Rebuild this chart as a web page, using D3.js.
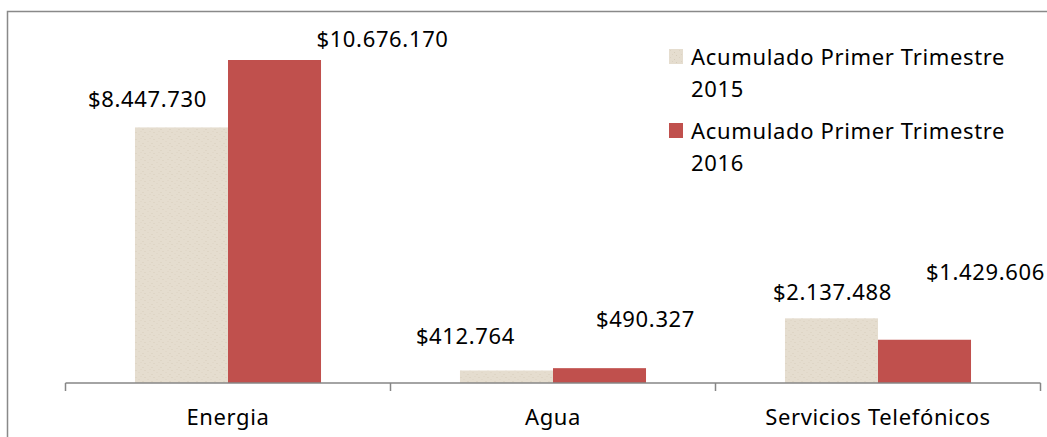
<!DOCTYPE html>
<html>
<head>
<meta charset="utf-8">
<script src="https://cdn.jsdelivr.net/npm/d3@7"></script>
<style>
  html, body { margin: 0; padding: 0; background: #fff; overflow: hidden; }
  text { font-family: "Noto Sans", "Open Sans", sans-serif; fill: #000; letter-spacing: 0.65px; }
</style>
</head>
<body>
<div id="chart-container"></div>
<script>
// data
const categories = ["Energia", "Agua", "Servicios Telefónicos"];
const series = ["Acumulado Primer Trimestre 2015", "Acumulado Primer Trimestre 2016"];
const values2015 = [8447730, 412764, 2137488];
const values2016 = [10676170, 490327, 1429606];

// label nudges (px) as placed in the original, [dx, dy] from bar top centre
const labelNudge2015 = [[-34, -20], [-41, -27], [1, -18]];
const labelNudge2016 = [[108, -13], [46, -41], [61, -60]];

const w = 1047, h = 437;
const fontSize = "22px";
const fmt = v => "$" + d3.format(",")(v).replace(/,/g, ".");

const svg = d3.select("#chart-container").append("svg")
  .attr("width", w)
  .attr("height", h);

// beige bar texture
const defs = svg.append("defs");
const pat = defs.append("pattern")
  .attr("id", "paper")
  .attr("patternUnits", "userSpaceOnUse")
  .attr("width", 9).attr("height", 7);
pat.append("rect").attr("width", 9).attr("height", 7).attr("fill", "#E5DDCF");
[[1, 1], [5, 3], [3, 5], [7, 6]].forEach(([px, py], i) => {
  pat.append("rect")
    .attr("x", px).attr("y", py)
    .attr("width", 1).attr("height", 1)
    .attr("fill", i % 2 ? "#D6CCBA" : "#DCD3C3");
});

// outer frame
svg.append("path")
  .attr("d", `M7.5,${h + 5} V11.5 H${w + 5}`)
  .attr("fill", "none")
  .attr("stroke", "#898989")
  .attr("stroke-width", 1.5);

const x0 = d3.scaleBand()
  .domain(categories)
  .range([65.5, 1040.5])
  .padding(0);

const x1 = d3.scaleBand()
  .domain(series)
  .range([0, x0.bandwidth()])
  .paddingInner(0)
  .paddingOuter(0.747);

const y = d3.scaleLinear()
  .domain([0, 12000000])
  .range([383, 383 - 12000000 * (323 / 10676170)]);

const colors = ["url(#paper)", "#C0504D"];

const rows = categories.map((c, i) => ({
  cat: c,
  vals: [
    { s: series[0], v: values2015[i], nudge: labelNudge2015[i], k: 0 },
    { s: series[1], v: values2016[i], nudge: labelNudge2016[i], k: 1 }
  ]
}));

const groups = svg.selectAll(".grp")
  .data(rows)
  .join("g")
  .attr("class", "grp")
  .attr("transform", d => `translate(${x0(d.cat)},0)`);

groups.selectAll("rect")
  .data(d => d.vals)
  .join("rect")
  .attr("x", d => x1(d.s))
  .attr("y", d => y(d.v))
  .attr("width", x1.bandwidth())
  .attr("height", d => y(0) - y(d.v))
  .attr("fill", d => colors[d.k]);

groups.selectAll("text.lbl")
  .data(d => d.vals)
  .join("text")
  .attr("class", "lbl")
  .attr("x", d => x1(d.s) + x1.bandwidth() / 2 + d.nudge[0])
  .attr("y", d => y(d.v) + d.nudge[1])
  .attr("text-anchor", "middle")
  .style("font-size", fontSize)
  .text(d => fmt(d.v));

// category axis with ticks on band boundaries
const axis = svg.append("g");
axis.append("line")
  .attr("x1", x0.range()[0]).attr("x2", x0.range()[1])
  .attr("y1", y(0)).attr("y2", y(0))
  .attr("stroke", "#868686").attr("stroke-width", 1.5);
const bounds = categories.map(c => x0(c)).concat([x0.range()[1]]);
axis.selectAll(".tick")
  .data(bounds)
  .join("line")
  .attr("class", "tick")
  .attr("x1", d => d).attr("x2", d => d)
  .attr("y1", y(0)).attr("y2", y(0) + 8)
  .attr("stroke", "#868686").attr("stroke-width", 1.5);
axis.selectAll(".cat")
  .data(categories)
  .join("text")
  .attr("class", "cat")
  .attr("x", d => x0(d) + x0.bandwidth() / 2)
  .attr("y", 425)
  .attr("text-anchor", "middle")
  .style("font-size", fontSize)
  .text(d => d);

// legend
const legend = svg.append("g").attr("transform", "translate(669,49)");
const item = legend.selectAll(".item")
  .data(series)
  .join("g")
  .attr("class", "item")
  .attr("transform", (d, i) => `translate(0,${i * 74})`);
item.append("rect")
  .attr("width", 14).attr("height", 15)
  .attr("fill", (d, i) => colors[i]);
item.append("text")
  .attr("x", 22)
  .attr("y", 15.5)
  .style("font-size", fontSize)
  .selectAll("tspan")
  .data(d => [d.slice(0, d.lastIndexOf(" ")), d.slice(d.lastIndexOf(" ") + 1)])
  .join("tspan")
  .attr("x", 22)
  .attr("dy", (d, i) => i ? 32 : 0)
  .text(d => d);
</script>
</body>
</html>
